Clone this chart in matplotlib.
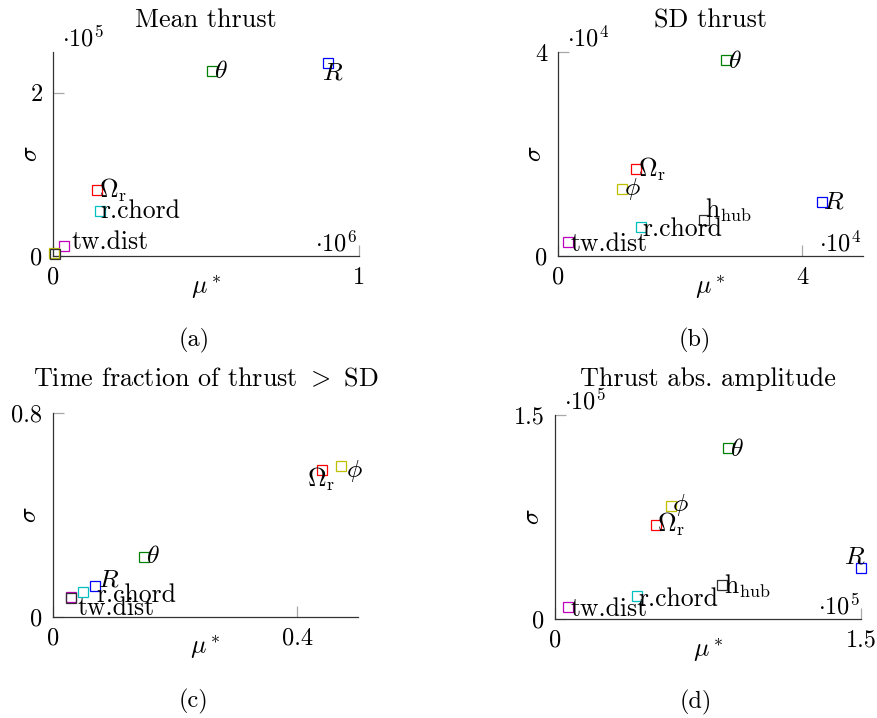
import matplotlib
matplotlib.use('Agg')
import matplotlib.pyplot as plt
from matplotlib.ticker import FixedLocator, FuncFormatter
from matplotlib.transforms import offset_copy

plt.rcParams['font.family'] = ['cmr10', 'DejaVu Serif']
plt.rcParams['mathtext.fontset'] = 'cm'
plt.rcParams['axes.formatter.use_mathtext'] = True
plt.rcParams['axes.unicode_minus'] = False

# ---------------- data ----------------
params = ['theta', 'R', 'Omega', 'rchord', 'twdist', 'phi', 'hhub']
param_labels = {'theta': r'$\theta$', 'R': r'$R$', 'Omega': r'$\Omega_{\mathrm{r}}$',
                'rchord': 'r.chord', 'twdist': 'tw.dist', 'phi': r'$\phi$',
                'hhub': r'$\mathrm{h}_{\mathrm{hub}}$'}

titles = ['Mean thrust', 'SD thrust', r'Time fraction of thrust $>$ SD', 'Thrust abs. amplitude']
captions = ['(a)', '(b)', '(c)', '(d)']

mu_a = [0.52e6, 0.898e6, 0.144e6, 0.154e6, 0.037e6, 0.003e6, 0.005e6]
sig_a = [2.27e5, 2.37e5, 0.808e5, 0.55e5, 0.126e5, 0.04e5, 0.02e5]

mu_b = [2.76e4, 4.32e4, 1.28e4, 1.36e4, 0.17e4, 1.06e4, 2.39e4]
sig_b = [3.84e4, 1.065e4, 1.70e4, 0.575e4, 0.268e4, 1.31e4, 0.706e4]

mu_c = [0.149, 0.0693, 0.441, 0.0497, 0.0295, 0.471, 0.0295]
sig_c = [0.236, 0.121, 0.577, 0.098, 0.077, 0.593, 0.072]

mu_d = [0.849e5, 1.497e5, 0.495e5, 0.40e5, 0.0637e5, 0.567e5, 0.819e5]
sig_d = [1.255e5, 0.373e5, 0.693e5, 0.167e5, 0.086e5, 0.831e5, 0.252e5]

xlims = [1e6, 5e4, 0.5, 1.5e5]
ylims = [2.5e5, 4e4, 0.8, 1.5e5]
xticks = [[0, 1e6], [0, 4e4], [0, 0.4], [0, 1.5e5]]
yticks = [[0, 2e5], [0, 4e4], [0, 0.8], [0, 1.5e5]]
xscale = [6, 4, 0, 5]
yscale = [5, 4, 0, 5]

labeled = [['theta', 'R', 'Omega', 'rchord', 'twdist'],
           ['theta', 'R', 'Omega', 'rchord', 'twdist', 'phi', 'hhub'],
           ['theta', 'R', 'Omega', 'rchord', 'twdist', 'phi'],
           ['theta', 'R', 'Omega', 'rchord', 'twdist', 'phi', 'hhub']]

# ---------------- style ----------------
colors = {'theta': '#008000', 'R': '#0000ff', 'Omega': '#ff0000', 'rchord': '#00bfbf',
          'twdist': '#bf00bf', 'phi': '#bfbf00', 'hhub': '#303030'}

# label offsets in pixels (dx, dy up)
offsets = [
    {'theta': (2, 0), 'R': (-6, -10), 'Omega': (2, 0), 'rchord': (0, 0), 'twdist': (7, 4)},
    {'theta': (2, -1), 'R': (1.5, 0), 'Omega': (2, 0), 'rchord': (1.7, -2), 'twdist': (2.3, -1.7),
     'phi': (1.3, 0), 'hhub': (1.7, 10)},
    {'theta': (2, 0), 'R': (3.3, 6.7), 'Omega': (-15.7, -9.3), 'rchord': (13.7, -3.7),
     'twdist': (6.7, -11), 'phi': (5, -5.7)},
    {'theta': (1.7, -1), 'R': (-16.7, 12), 'Omega': (1.3, 0), 'rchord': (1.7, -2.7),
     'twdist': (2.7, -2), 'phi': (1.7, 1.3), 'hhub': (1.7, -1.3)},
]

W, H = 878, 718
# axes rects in px: left, top, width, height
rects = [(53, 52, 306, 204), (557.7, 52, 305.6, 204),
         (52.7, 413, 305.6, 203.7), (555, 415, 306.3, 204)]
title_pads_px = [24.7, 24.7, 26.7, 29.3]
caption_pos = [(194, 340), (695, 340), (194, 701), (695.5, 702)]

FS = 17.5
FS_LAB = 18.5
FS_TITLE = 18.8
PX = 0.72  # points per pixel at dpi 100

fig = plt.figure(figsize=(W / 100, H / 100), dpi=100)

data = [(mu_a, sig_a), (mu_b, sig_b), (mu_c, sig_c), (mu_d, sig_d)]

for i in range(4):
    l, t, w, h = rects[i]
    ax = fig.add_axes([l / W, 1 - (t + h) / H, w / W, h / H])
    mu, sig = data[i]
    for j, p in enumerate(params):
        ax.plot([mu[j]], [sig[j]], ls='none', marker='s', ms=7.8, mfc='none',
                mec=colors[p], mew=0.9, clip_on=False, zorder=3)
    for j, p in enumerate(params):
        if p in labeled[i]:
            dx, dy = offsets[i][p]
            ax.annotate(param_labels[p], (mu[j], sig[j]), xytext=(dx * PX, dy * PX),
                        textcoords='offset points', ha='left', va='center',
                        fontsize=FS_LAB, zorder=4, annotation_clip=False)
    ax.set_xlim(0, xlims[i])
    ax.set_ylim(0, ylims[i])
    ax.xaxis.set_major_locator(FixedLocator(xticks[i]))
    ax.yaxis.set_major_locator(FixedLocator(yticks[i]))
    xs, ys = 10.0 ** xscale[i], 10.0 ** yscale[i]
    ax.xaxis.set_major_formatter(FuncFormatter(lambda v, pos, s=xs: '%g' % (v / s)))
    ax.yaxis.set_major_formatter(FuncFormatter(lambda v, pos, s=ys: '%g' % (v / s)))
    for side in ['top', 'right']:
        ax.spines[side].set_visible(False)
    for side in ['left', 'bottom']:
        ax.spines[side].set_color('#333333')
        ax.spines[side].set_linewidth(0.9)
    ax.tick_params(direction='in', length=7.8, width=0.9, color='#a8a8a8',
                   labelsize=FS, pad=7.5, labelcolor='black')
    ax.set_title(titles[i], fontsize=FS_TITLE, pad=title_pads_px[i] * PX)
    ax.set_xlabel(r'$\mu^*$', fontsize=FS_LAB)
    ax.set_ylabel(r'$\sigma$', fontsize=FS_LAB)
    ax.xaxis.set_label_coords(0.5, -31 / h)
    ax.xaxis.label.set_va('center')
    ax.yaxis.set_label_coords(-23 / w, 0.5)
    ax.yaxis.label.set_va('center')
    if yscale[i]:
        ax.text(0, 1, r'$\cdot 10^{%d}$' % yscale[i], fontsize=FS,
                transform=offset_copy(ax.transAxes, fig, x=9 * PX, y=6 * PX, units='points'),
                ha='left', va='baseline')
    if xscale[i]:
        ax.text(1, 0, r'$\cdot 10^{%d}$' % xscale[i], fontsize=FS,
                transform=offset_copy(ax.transAxes, fig, x=-2 * PX, y=4.5 * PX, units='points'),
                ha='right', va='baseline')
    cx, cy = caption_pos[i]
    fig.text(cx / W, 1 - cy / H, captions[i], ha='center', va='center', fontsize=FS)

fig.savefig('out.png', dpi=100)
